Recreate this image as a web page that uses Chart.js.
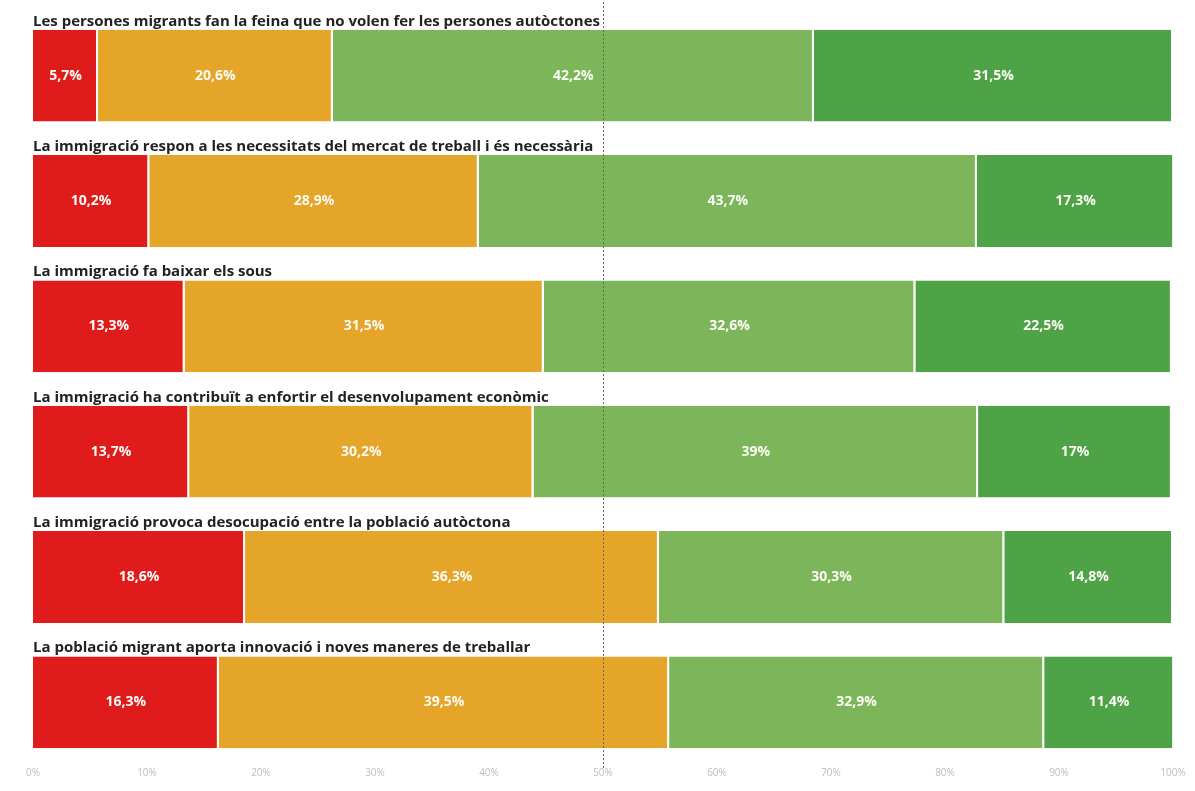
<!DOCTYPE html>
<html><head><meta charset="utf-8">
<script src="https://cdn.jsdelivr.net/npm/chart.js@4.4.1/dist/chart.umd.min.js"></script>
<style>html,body{margin:0;padding:0;background:#fff}#wrap{width:1195px;height:791px;position:relative}</style>
</head><body><div id="wrap"><canvas id="c" width="1195" height="791"></canvas></div>
<script>
const categories = [
  "Les persones migrants fan la feina que no volen fer les persones autòctones",
  "La immigració respon a les necessitats del mercat de treball i és necessària",
  "La immigració fa baixar els sous",
  "La immigració ha contribuït a enfortir el desenvolupament econòmic",
  "La immigració provoca desocupació entre la població autòctona",
  "La població migrant aporta innovació i noves maneres de treballar"
];
const seriesNames = ["Gens d'acord", "Poc d'acord", "Bastant d'acord", "Molt d'acord"];
const gens    = [5.7, 10.2, 13.3, 13.7, 18.6, 16.3];
const poc     = [20.6, 28.9, 31.5, 30.2, 36.3, 39.5];
const bastant = [42.2, 43.7, 32.6, 39.0, 30.3, 32.9];
const molt    = [31.5, 17.3, 22.5, 17.0, 14.8, 11.4];
const tickValues = [0,10,20,30,40,50,60,70,80,90,100];
const colors = ["#e01b1b", "#e5a528", "#7db65a", "#4ea346"];

const fmt = v => String(v).replace('.', ',') + '%';

const overlay = {
  id: 'overlay',
  afterDatasetsDraw(chart) {
    const ctx = chart.ctx;
    ctx.save();
    ctx.fillStyle = '#fbfbf5';
    ctx.font = 'bold 14px "Open Sans", Lato, sans-serif';
    ctx.textAlign = 'center';
    ctx.textBaseline = 'middle';
    chart.data.datasets.forEach((ds, di) => {
      const meta = chart.getDatasetMeta(di);
      meta.data.forEach((bar, i) => {
        const p = bar.getProps(['x','y','base'], true);
        ctx.fillText(fmt(ds.data[i]), (p.x + p.base) / 2, p.y);
      });
    });
    const ys = chart.scales.y, xs = chart.scales.x;
    const meta0 = chart.getDatasetMeta(0);
    ctx.fillStyle = '#222';
    ctx.font = 'bold 15px "Open Sans", Lato, sans-serif';
    ctx.textAlign = 'left';
    ctx.textBaseline = 'alphabetic';
    categories.forEach((c, i) => {
      const bar = meta0.data[i];
      const top = bar.y - bar.height / 2;
      ctx.fillText(c, xs.getPixelForValue(0), top - 4);
    });
    const x50 = Math.round(xs.getPixelForValue(50)) + 0.5;
    ctx.strokeStyle = '#666';
    ctx.lineWidth = 1;
    ctx.setLineDash([2, 2]);
    ctx.beginPath();
    ctx.moveTo(x50, 2);
    ctx.lineTo(x50, ys.bottom + 3);
    ctx.stroke();
    ctx.restore();
  }
};

const data = {
  labels: categories,
  datasets: [gens, poc, bastant, molt].map((arr, i) => ({
    label: seriesNames[i],
    data: arr,
    backgroundColor: colors[i],
    borderColor: '#ffffff',
    borderWidth: {left: 0, right: 2, top: 0, bottom: 0},
    borderSkipped: false,
    barPercentage: 0.733,
    categoryPercentage: 1.0
  }))
};

new Chart(document.getElementById('c'), {
  type: 'bar',
  data,
  options: {
    indexAxis: 'y',
    responsive: false,
    animation: false,
    layout: {padding: {left: 25, right: 22, top: 13, bottom: 0}},
    plugins: {legend: {display: false}, tooltip: {enabled: false}},
    scales: {
      x: {
        stacked: true, min: 0, max: 100,
        grid: {display: false}, border: {display: false},
        afterBuildTicks(axis) { axis.ticks = tickValues.map(v => ({value: v})); },
        afterFit(axis) { axis.height = 26; },
        ticks: {color: '#bdbdbd', font: {size: 10, family: '"Open Sans", sans-serif'}, padding: -6, maxRotation: 0,
                callback: v => v + '%'}
      },
      y: {
        stacked: true,
        grid: {display: false}, border: {display: false},
        ticks: {display: false}
      }
    }
  },
  plugins: [overlay]
});
</script></body></html>
